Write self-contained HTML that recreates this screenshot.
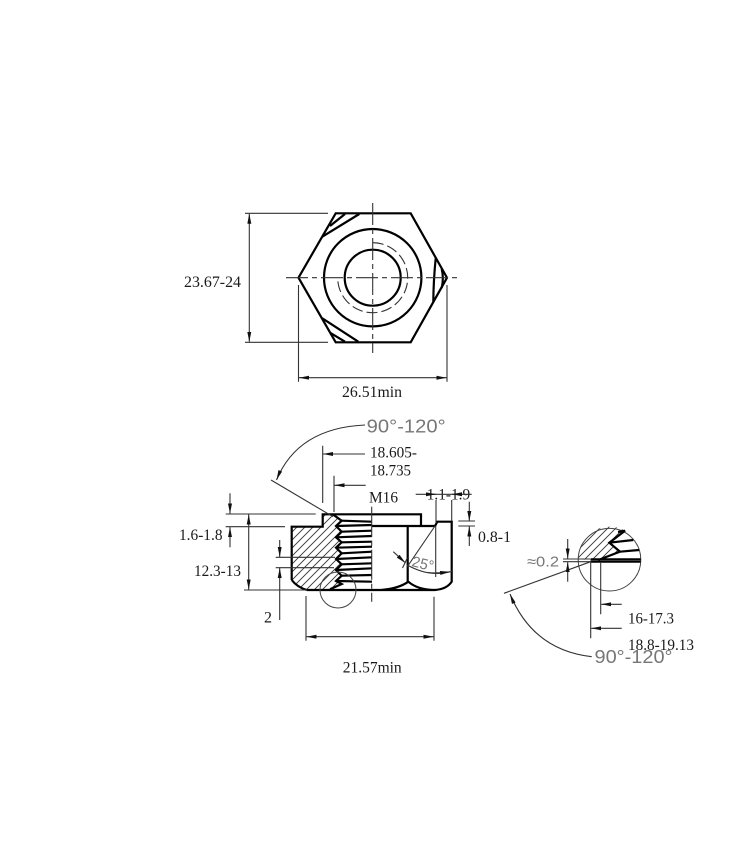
<!DOCTYPE html>
<html><head><meta charset="utf-8"><style>
html,body{margin:0;padding:0;background:#fff}
svg{display:block}
text{font-family:"Liberation Serif",serif;font-size:16px;fill:#1a1a1a}
.g{font-family:"Liberation Sans",sans-serif;fill:#777;font-size:18px;font-weight:normal}
.k{fill:none;stroke:#000;stroke-width:2.2}
.t{fill:none;stroke:#333;stroke-width:1.1}
</style></head><body>
<svg width="750" height="847" viewBox="0 0 750 847" xmlns="http://www.w3.org/2000/svg">
<defs>
<marker id="m" markerUnits="userSpaceOnUse" markerWidth="11" markerHeight="6" refX="10" refY="2" orient="auto"><path d="M0 0L10 2L0 4Z" fill="#111"/></marker>
<pattern id="h" patternUnits="userSpaceOnUse" width="8" height="8"><path d="M-1 9L9 -1M-2 2L2 -2M6 10L10 6" stroke="#333" stroke-width=".9" fill="none"/></pattern>
</defs>

<!-- top view -->
<path class="k" d="M298.5 277.7L335.7 213.3H410.7L447 277.7L410.7 342.3H335.7Z"/>
<path class="k" d="M322.3 236.7L359.3 214M330 226L345 214M322.3 318.3L358.3 341.7M330 332.7L345 341.7M435.7 258.3Q433.5 280 433.3 301.7M441.7 269Q444 277.7 441.7 288"/>
<circle class="k" cx="372.7" cy="277.7" r="48.7"/>
<circle class="k" cx="372.7" cy="277.7" r="28"/>
<path class="t" stroke-dasharray="11 4" d="M372.7 242.7A35 35 0 1 1 337.7 277.7"/>
<path class="t" stroke-dasharray="22 4 5 4" d="M286 277.7H460M372.7 203V353"/>
<path class="t" d="M245 213.3H328M245 342.3H328M298.5 285V381.7M447 285V381.7"/>
<path class="t" marker-end="url(#m)" d="M249.3 277V213.8"/>
<path class="t" marker-end="url(#m)" d="M249.3 277V341.8"/>
<path class="t" marker-end="url(#m)" d="M372 377.7H299"/>
<path class="t" marker-end="url(#m)" d="M372 377.7H446.5"/>
<text x="184" y="287" textLength="57" lengthAdjust="spacingAndGlyphs">23.67-24</text>
<text x="342" y="397" textLength="60" lengthAdjust="spacingAndGlyphs">26.51min</text>

<!-- side view hatch -->
<path fill="url(#h)" stroke="none" d="M291.7 526.7H322.7V514H333.3L341.7 520.7L336 526L341.7 531.7L336 537.3L341.7 542.3L336 547.7L341.7 553.3L336 559L341.7 564.3L336 570L341.7 575.7L336 581L341.7 584L330 589.3L306.7 590Q297 587 291.7 580Z"/>
<path class="k" d="M291.7 580V526.7H322.7V514.3H421V526M371.7 526H435L437.3 521.7H451.7V581.7Q447 589 435 590Q418 590 408.3 581.7Q398 589 380 590M306.7 590H435M306.7 590Q297 587 291.7 580M407.7 526V581.7"/>
<path class="k" d="M333.3 514.7L341.7 520.7L336 526L341.7 531.7L336 537.3L341.7 542.3L336 547.7L341.7 553.3L336 559L341.7 564.3L336 570L341.7 575.7L336 581L341.7 584L330 589.3"/>
<path class="k" d="M341.7 520.7L372 521.7M336 526L372 525M341.7 531.7L372 530.7M336 537.3L372 536M341.7 542.3L372 541.7M336 547.7L372 546.7M341.7 553.3L372 551.7M336 559L372 557.3M341.7 564.3L372 563.3M336 570L372 568.3M341.7 575.7L372 575M336 581L372 581.7"/>
<path class="t" stroke-dasharray="30 4 5 4" d="M371.7 506.7V601.7"/>
<path class="t" d="M435 526L407.3 566.7M435.7 526V577"/>
<circle cx="338" cy="590" r="18" fill="none" stroke="#444" stroke-width="1"/>

<!-- 25 deg -->
<path class="t" marker-end="url(#m)" d="M393.3 551.7L405.5 563"/>
<path class="t" d="M402.5 568L407.3 558M407.3 565Q430 578 453 571"/>
<path class="t" marker-end="url(#m)" d="M428 572.5Q436 573.5 450 571.8"/>
<text class="g" transform="translate(411 566) rotate(14)" textLength="22" lengthAdjust="spacingAndGlyphs" style="font-size:15px">25°</text>

<!-- 90-120 top -->
<path class="t" marker-end="url(#m)" d="M365 425Q298 428 276.5 480"/>
<path class="t" d="M271 480L333 516.7"/>
<text class="g" x="366.7" y="432.5" textLength="79" lengthAdjust="spacingAndGlyphs">90°-120°</text>

<!-- top dims -->
<path class="t" d="M322.7 445.7V503M334 475.7V512"/>
<path class="t" marker-end="url(#m)" d="M365 454H323"/>
<path class="t" marker-end="url(#m)" d="M365.7 485.3H334.5"/>
<text x="370" y="457.7" textLength="47" lengthAdjust="spacingAndGlyphs">18.605-</text>
<text x="370" y="475.7" textLength="41" lengthAdjust="spacingAndGlyphs">18.735</text>
<text x="369" y="502.7" textLength="29" lengthAdjust="spacingAndGlyphs">M16</text>

<text x="426.7" y="499.3" textLength="43.5" lengthAdjust="spacingAndGlyphs">1.1-1.9</text>
<path class="t" d="M436 500V523M451.7 500V521M458.3 521H475M458.3 526H475"/>
<path class="t" d="M415.7 494.3H471.7"/>
<path class="t" marker-end="url(#m)" d="M426 494.3H436"/>
<path class="t" marker-end="url(#m)" d="M461 494.3H452"/>
<path class="t" marker-end="url(#m)" d="M469.3 501.7V521"/>
<path class="t" marker-end="url(#m)" d="M469.3 546V526.5"/>
<text x="478" y="542" textLength="33" lengthAdjust="spacingAndGlyphs">0.8-1</text>

<!-- left dims -->
<path class="t" d="M225.7 514H315.7M225.7 526.7H285M244 590H306.7"/>
<path class="t" marker-end="url(#m)" d="M230 493.3V513.5"/>
<path class="t" marker-end="url(#m)" d="M230 547.3V527.2"/>
<text x="179" y="540" textLength="43.5" lengthAdjust="spacingAndGlyphs">1.6-1.8</text>
<path class="t" marker-end="url(#m)" d="M248.7 550V514.5"/>
<path class="t" marker-end="url(#m)" d="M248.7 550V589.5"/>
<text x="194" y="576" textLength="47" lengthAdjust="spacingAndGlyphs">12.3-13</text>
<path class="t" d="M275.7 557.3H335M275.7 567.7H334"/>
<path class="t" marker-end="url(#m)" d="M279.7 540V557"/>
<path class="t" marker-end="url(#m)" d="M279.7 620V568"/>
<text x="264" y="622.5">2</text>

<!-- bottom dim -->
<path class="t" d="M306 596V640.7M434 596.7V640.7"/>
<path class="t" marker-end="url(#m)" d="M370 636.7H306.5"/>
<path class="t" marker-end="url(#m)" d="M370 636.7H433.5"/>
<text x="342.7" y="672.3" textLength="59" lengthAdjust="spacingAndGlyphs">21.57min</text>

<!-- detail -->
<path fill="url(#h)" d="M578.3 559.5A31.3 31.3 0 0 1 625 530.7L609.3 542.7L620 551.7L598.3 560Z"/>
<circle cx="609.5" cy="559.7" r="31.3" fill="none" stroke="#444" stroke-width="1"/>
<path class="k" d="M618 532L625 530.7L609.3 542.7L620 551.7L598.3 560M609.3 542.7L633.3 540M620 551.7L639 550M590.5 559.3H640.7M590.5 561.7H640.7"/>
<path class="t" d="M563 559H590M563 561.7H590M590.7 561V638.3M600.7 562V614.3M590.7 561.7L504 593.3"/>
<path class="t" marker-end="url(#m)" d="M567.7 539V558.5"/>
<path class="t" marker-end="url(#m)" d="M567.7 581.7V562.2"/>
<text class="g" x="527" y="566.7" textLength="32" lengthAdjust="spacingAndGlyphs" style="font-size:15px">≈0.2</text>
<path class="t" marker-end="url(#m)" d="M591.7 656.7Q533 650 510 594"/>
<path class="t" marker-end="url(#m)" d="M621.7 604.3H601.2"/>
<path class="t" marker-end="url(#m)" d="M621.7 628.3H591.2"/>
<text class="g" x="594.5" y="663" textLength="78" lengthAdjust="spacingAndGlyphs">90°-120°</text>
<text x="628" y="623.3" textLength="46" lengthAdjust="spacingAndGlyphs">16-17.3</text>
<text x="628" y="650" textLength="66" lengthAdjust="spacingAndGlyphs">18.8-19.13</text>
</svg>
</body></html>
